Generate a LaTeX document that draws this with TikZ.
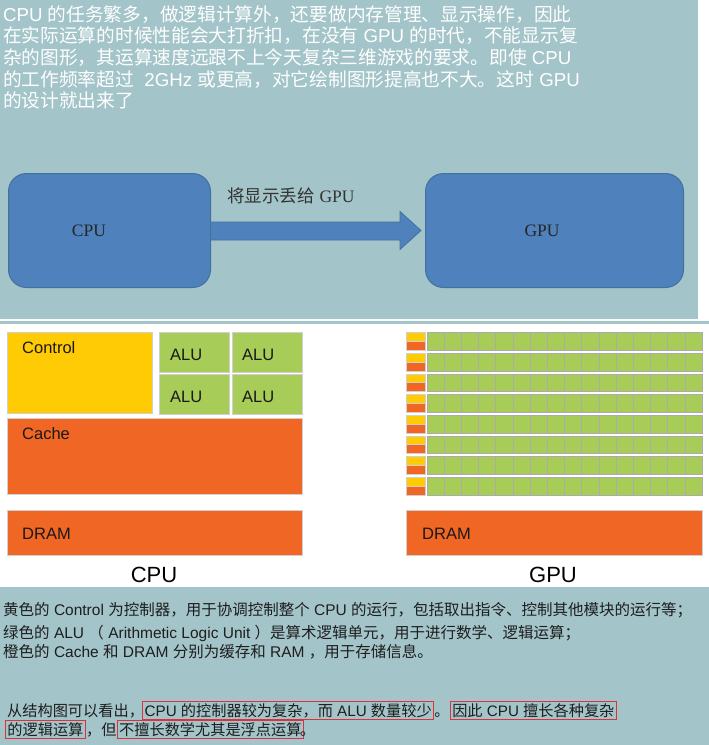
\documentclass[tikz,border=0pt]{standalone}
\usepackage{fontspec}
\setmainfont{Liberation Sans}
\newfontfamily\cjkfont{Noto Sans CJK SC}
\newfontfamily\seriffont{Liberation Serif}
\newcommand\zh[1]{{\cjkfont #1}}
\definecolor{panel}{HTML}{A3C4C9}
\definecolor{boxblue}{HTML}{4F81BD}
\definecolor{boxline}{HTML}{41719C}
\definecolor{ylw}{HTML}{FECB05}
\definecolor{grn}{HTML}{A7CC57}
\definecolor{org}{HTML}{F06625}
\definecolor{blkline}{HTML}{D0D0D0}
\definecolor{cellline}{HTML}{ABABAB}
\definecolor{redbox}{HTML}{E0303A}
\definecolor{darktext}{HTML}{1E1E1E}
\begin{document}
\begin{tikzpicture}[x=1pt,y=-1pt,
  toptxt/.style={anchor=base west, inner sep=0pt, text=white, font=\fontsize{18.7}{22}\selectfont},
  bottxt/.style={anchor=base west, inner sep=0pt, text=darktext, font=\fontsize{15.5}{19}\selectfont},
  para/.style={anchor=base west, inner sep=0pt, text=darktext, font=\fontsize{15.2}{19}\selectfont},
  redframe/.style={draw=redbox, line width=0.9pt, inner xsep=2pt, inner ysep=1.8pt},
  bigbox/.style={draw=boxline, line width=1pt, fill=boxblue, rounded corners=18pt, anchor=north west, inner sep=0pt},
  boxtxt/.style={inner sep=0pt, font=\seriffont\fontsize{17.5}{20}\selectfont, text=black!85},
  blk/.style={draw=blkline, line width=0.7pt, anchor=north west, inner sep=0pt},
  dims/.style args={#1 by #2}{minimum width=#1pt, minimum height=#2pt},
  cell/.style={draw=cellline, line width=0.5pt, fill=grn, anchor=north west, inner sep=0pt, minimum width=17.19pt, minimum height=17.7pt},
  lbl/.style={anchor=base west, inner sep=0pt, text=black!90, font=\fontsize{16.5}{19}\selectfont},
  biglbl/.style={anchor=base, inner sep=0pt, text=black, font=\fontsize{22}{26}\selectfont}
]
\useasboundingbox (0,0) rectangle (709,745);
% panels
\fill[panel] (0,0) rectangle (698,319);
\fill[panel] (0,587) rectangle (709,745);
\draw[panel, line width=2.5pt] (0,322.5) -- (709,322.5);

% top text
\node[toptxt] (t1) at (3,21) {CPU \zh{的任务繁多，做逻辑计算外，还要做内存管理、显示操作，因此}};
\node[toptxt] (t2) at (3,42) {\zh{在实际运算的时候性能会大打折扣，在没有} GPU \zh{的时代，不能显示复}};
\node[toptxt] (t3) at (3,64) {\zh{杂的图形，其运算速度远跟不上今天复杂三维游戏的要求。即使} CPU};
\node[toptxt] (t4) at (3,86) {\zh{的工作频率超过}\ \ 2GHz \zh{或更高，对它绘制图形提高也不大。这时} GPU};
\node[toptxt] (t5) at (3,107) {\zh{的设计就出来了}};

% CPU -> GPU
\node[bigbox, dims=202 by 114] (cpu) at (8,173) {};
\node[bigbox, dims=258 by 114] (gpu) at (425,173) {};
\node[boxtxt] (cpulab) at (89,231) {CPU};
\node[boxtxt] (gpulab) at (542,231) {GPU};
\coordinate (as) at ([yshift=8.5pt]cpu.east);
\coordinate (ae) at ([yshift=-9.5pt]cpu.east);
\draw[draw=boxline, fill=boxblue, line width=0.8pt]
  (as) -- (400,222) -- (400,211.5) -- (421,230.5) -- (400,249.5) -- (400,240) -- (ae);
\node[anchor=base west, inner sep=0pt, text=black!80, font=\fontsize{17.5}{20}\selectfont] (arrlab) at (227,202) {\zh{将显示丢给} {\seriffont GPU}};

% CPU block diagram
\node[blk, fill=ylw, dims=145 by 81] (ctrl) at (7,332) {};
\node[blk, fill=grn, dims=70 by 40] (alu1) at (159,332) {};
\node[blk, fill=grn, dims=70 by 40] (alu2) at (232,332) {};
\node[blk, fill=grn, dims=70 by 40] (alu3) at (159,374) {};
\node[blk, fill=grn, dims=70 by 40] (alu4) at (232,374) {};
\node[blk, fill=org, dims=295 by 76] (cache) at (7,418) {};
\node[blk, fill=org, dims=295 by 45] (dram) at (7,510) {};
\node[lbl] (l1) at (22,353) {Control};
\node[lbl] (l2) at (170,360) {ALU};
\node[lbl] (l3) at (242,360) {ALU};
\node[lbl] (l4) at (170,402) {ALU};
\node[lbl] (l5) at (242,402) {ALU};
\node[lbl] (l6) at (22,439) {Cache};
\node[lbl] (l7) at (22,539) {DRAM};
\node[biglbl] (cpuname) at (154,582) {CPU};

% GPU block diagram
\foreach \i in {0,...,7}{
  \pgfmathsetmacro\yt{332.3+20.67*\i}
  \node[blk, fill=ylw, dims=19 by 8.8] (gy\i) at (406,\yt) {};
  \node[blk, fill=org, dims=19 by 8.9] (go\i) at (406,\yt+8.8) {};
  \foreach \j in {0,...,15}{
    \pgfmathsetmacro\xl{426.7+17.19*\j}
    \node[cell] (gc\i-\j) at (\xl,\yt) {};
  }
}
\node[blk, fill=org, dims=296 by 45] (gdram) at (406,510) {};
\node[lbl] (l8) at (422,539) {DRAM};
\node[biglbl] (gpuname) at (553,582) {GPU};

% bottom text
\node[bottxt] (b1) at (3,615) {\zh{黄色的} Control \zh{为控制器，用于协调控制整个} CPU \zh{的运行，包括取出指令、控制其他模块的运行等；}};
\node[bottxt] (b2) at (3,638) {\zh{绿色的} ALU \zh{（} Arithmetic Logic Unit \zh{）是算术逻辑单元，用于进行数学、逻辑运算；}};
\node[bottxt] (b3) at (3,657) {\zh{橙色的} Cache \zh{和} DRAM \zh{分别为缓存和} RAM \zh{，用于存储信息。}};

% final paragraph
\node[para] (f1) at (7,716) {\zh{从结构图可以看出，}};
\node[para, redframe] (f2) at ([xshift=-2pt]f1.base east) {CPU \zh{的控制器较为复杂，而} ALU \zh{数量较少}};
\node[para] (f3) at (f2.base east) {\zh{。}};
\node[para, redframe] (f4) at (f3.base east) {\zh{因此} CPU \zh{擅长各种复杂}};
\node[para, redframe] (f5) at (5,735.5) {\zh{的逻辑运算}};
\node[para] (f6) at (f5.base east) {\zh{，但}};
\node[para, redframe] (f7) at (f6.base east) {\zh{不擅长数学尤其是浮点运算}};
\node[para] (f8) at ([xshift=-4pt]f7.base east) {\zh{。}};
\end{tikzpicture}
\end{document}
